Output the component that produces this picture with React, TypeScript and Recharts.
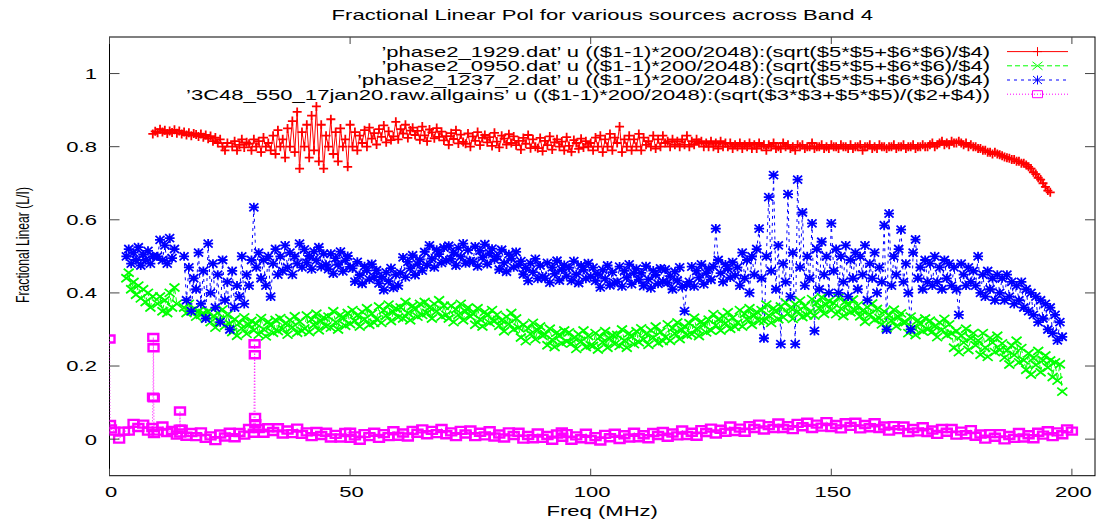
import React from 'react';
import { LineChart, Line, XAxis, YAxis, Customized } from 'recharts';

// ---------- data ----------
const STEP = 0.5; // MHz between plotted samples (channel grid)

const redStart = 9;
const redVals = [
  0.835, 0.842, 0.838, 0.848, 0.84, 0.845, 0.836, 0.843, 0.839, 0.846,
  0.837, 0.843, 0.835, 0.84, 0.832, 0.838, 0.83, 0.836, 0.833, 0.828,
  0.835, 0.826, 0.832, 0.822, 0.829, 0.815, 0.825, 0.81, 0.82, 0.8,
  0.79, 0.81, null, 0.8, 0.815, 0.79, 0.805, 0.82, 0.798, 0.812,
  0.808, 0.79, 0.82, 0.8, 0.815, 0.785, 0.825, 0.8, 0.81, 0.79,
  0.83, 0.78, 0.845, 0.8, 0.82, 0.77, 0.85, 0.8, 0.87, 0.785,
  0.895, 0.74, 0.84, 0.8, 0.86, 0.77, 0.885, 0.79, 0.91, 0.76,
  0.86, 0.74, 0.83, 0.8, 0.875, 0.78, 0.84, 0.76, 0.85, 0.8,
  0.82, 0.745, 0.86, 0.8, 0.84, 0.79, 0.83, 0.81, 0.845, 0.8,
  0.852, 0.822, 0.837, 0.806, 0.848, 0.827, 0.858, 0.812, 0.842, 0.818,
  0.828, 0.868, 0.82, 0.848, 0.836, 0.86, 0.824, 0.844, 0.852, 0.832,
  0.843, 0.819, 0.855, 0.831, 0.815, 0.847, 0.839, 0.823, 0.851, 0.827,
  0.841, 0.817, 0.829, 0.805, 0.837, 0.821, 0.845, 0.809, 0.833, 0.813,
  0.808, 0.836, 0.8, 0.828, 0.816, 0.84, 0.804, 0.824, 0.832, 0.812,
  0.826, 0.802, 0.838, 0.814, 0.798, 0.83, 0.822, 0.806, 0.834, 0.81,
  0.828, 0.804, 0.816, 0.792, 0.824, 0.808, 0.832, 0.796, 0.82, 0.8,
  0.796, 0.824, 0.788, 0.816, 0.804, 0.828, 0.792, 0.812, 0.82, 0.8,
  0.814, 0.79, 0.826, 0.802, 0.786, 0.818, 0.81, 0.794, 0.822, 0.798,
  0.815, 0.8, 0.81, 0.79, 0.825, 0.8, 0.83, 0.785, 0.82, 0.8,
  0.835, 0.79, 0.825, 0.81, 0.855, 0.785, 0.82, 0.8, 0.83, 0.79,
  0.82, 0.8, 0.835, 0.79, 0.825, 0.805, 0.815, 0.8, 0.83, 0.795,
  0.82, 0.8, 0.83, 0.81, 0.815, 0.8, 0.82, 0.805, 0.815, 0.8,
  0.82, 0.805, 0.83, 0.8, 0.815, 0.805, 0.82, 0.81, 0.815, 0.8,
  0.81, 0.8, 0.815, 0.8, 0.81, 0.795, 0.815, 0.8, 0.81, 0.8,
  0.81, 0.795, 0.805, 0.8, 0.81, 0.795, 0.805, 0.8, 0.81, 0.795,
  0.805, 0.795, 0.81, 0.8, 0.805, 0.79, 0.805, 0.8, 0.81, 0.795,
  0.8, 0.795, 0.81, 0.8, 0.805, 0.795, 0.8, 0.79, 0.805, 0.8,
  0.805, 0.795, 0.8, 0.8, 0.81, 0.795, 0.8, 0.8, 0.805, 0.795,
  0.8, 0.795, 0.805, 0.8, 0.8, 0.795, 0.805, 0.8, 0.8, 0.795,
  0.805, 0.795, 0.8, 0.8, 0.805, 0.79, 0.8, 0.8, 0.805, 0.795,
  0.8, 0.795, 0.805, 0.8, 0.8, 0.795, 0.8, 0.8, 0.805, 0.795,
  0.8, 0.8, 0.805, 0.795, 0.8, 0.8, 0.805, 0.795, 0.8, 0.8,
  0.805, 0.8, 0.8, 0.805, 0.81, 0.8, 0.805, 0.81, 0.815, 0.805,
  0.81, 0.805, 0.815, 0.81, 0.81, 0.815, 0.81, 0.805, 0.81, 0.8,
  0.805, 0.8, 0.8, 0.795, 0.795, 0.79, 0.79, 0.785, 0.785, 0.78,
  0.785, 0.78, 0.778, 0.775, 0.772, 0.77, 0.768, 0.765, 0.765, 0.76,
  0.76, 0.755, 0.755, 0.75, 0.745, 0.74, 0.73, 0.725, 0.715, 0.71,
  0.7, 0.69, 0.68, 0.675,
];

const greenStart = 3.5;
const greenVals = [
  0.44, 0.455, 0.41, 0.43, 0.395, 0.42, 0.385, 0.41, 0.375, 0.4, 0.36, 0.39,
  null,
  0.37, 0.39, 0.35, 0.38, 0.345, 0.4, 0.36, 0.415, 0.37,
  null, null,
  0.36, 0.345, 0.37, 0.35, 0.355, 0.335, 0.35, 0.34, 0.345, 0.33,
  0.35, 0.32, 0.335, 0.305, 0.345, 0.325, 0.355, 0.31, 0.34, 0.315,
  0.293, 0.328, 0.283, 0.318, 0.303, 0.333, 0.288, 0.313, 0.323, 0.298,
  0.316, 0.286, 0.331, 0.301, 0.281, 0.321, 0.311, 0.291, 0.326, 0.296,
  0.331, 0.301, 0.316, 0.286, 0.326, 0.306, 0.336, 0.291, 0.321, 0.296,
  0.303, 0.338, 0.293, 0.328, 0.313, 0.343, 0.298, 0.323, 0.333, 0.308,
  0.335, 0.305, 0.35, 0.32, 0.3, 0.34, 0.33, 0.31, 0.345, 0.315,
  0.353, 0.323, 0.338, 0.308, 0.348, 0.328, 0.358, 0.313, 0.343, 0.318,
  0.328, 0.363, 0.318, 0.353, 0.338, 0.368, 0.323, 0.348, 0.358, 0.333,
  0.36, 0.33, 0.375, 0.345, 0.325, 0.365, 0.355, 0.335, 0.37, 0.34,
  0.375, 0.345, 0.36, 0.33, 0.37, 0.35, 0.38, 0.335, 0.365, 0.34,
  0.33, 0.365, 0.32, 0.355, 0.34, 0.37, 0.325, 0.35, 0.36, 0.335,
  0.343, 0.313, 0.358, 0.328, 0.308, 0.348, 0.338, 0.318, 0.353, 0.323,
  0.34, 0.31, 0.325, 0.295, 0.335, 0.315, 0.345, 0.3, 0.33, 0.305,
  0.278, 0.313, 0.268, 0.303, 0.288, 0.318, 0.273, 0.298, 0.308, 0.283,
  0.287, 0.257, 0.302, 0.272, 0.252, 0.292, 0.282, 0.262, 0.297, 0.267,
  0.292, 0.262, 0.277, 0.247, 0.287, 0.267, 0.297, 0.252, 0.282, 0.257,
  0.255, 0.29, 0.245, 0.28, 0.265, 0.295, 0.25, 0.275, 0.285, 0.26,
  0.285, 0.255, 0.3, 0.27, 0.25, 0.29, 0.28, 0.26, 0.295, 0.265,
  0.303, 0.273, 0.288, 0.258, 0.298, 0.278, 0.308, 0.263, 0.293, 0.268,
  0.279, 0.314, 0.269, 0.304, 0.289, 0.319, 0.274, 0.299, 0.309, 0.284,
  0.317, 0.287, 0.332, 0.302, 0.282, 0.322, 0.312, 0.292, 0.327, 0.297,
  0.342, 0.312, 0.327, 0.297, 0.337, 0.317, 0.347, 0.302, 0.332, 0.307,
  0.318, 0.353, 0.308, 0.343, 0.328, 0.358, 0.313, 0.338, 0.348, 0.323,
  0.353, 0.323, 0.368, 0.338, 0.318, 0.358, 0.348, 0.328, 0.363, 0.333,
  0.374, 0.344, 0.359, 0.329, 0.369, 0.349, 0.379, 0.334, 0.364, 0.339,
  0.348, 0.383, 0.338, 0.373, 0.358, 0.388, 0.343, 0.368, 0.378, 0.353,
  0.372, 0.342, 0.387, 0.357, 0.337, 0.377, 0.367, 0.347, 0.382, 0.352,
  0.366, 0.336, 0.351, 0.321, 0.361, 0.341, 0.371, 0.326, 0.356, 0.331,
  0.314, 0.349, 0.304, 0.339, 0.324, 0.354, 0.309, 0.334, 0.344, 0.319,
  0.32, 0.29, 0.335, 0.305, 0.285, 0.325, 0.315, 0.295, 0.33, 0.3,
  0.324, 0.294, 0.309, 0.279, 0.319, 0.299, 0.329, 0.284, 0.314, 0.289,
  0.25, 0.296, 0.238, 0.283, 0.264, 0.302, 0.244, 0.276, 0.29, 0.257,
  0.27, 0.231, 0.29, 0.25, 0.225, 0.277, 0.264, 0.238, 0.283, 0.244,
  0.262, 0.223, 0.243, 0.204, 0.256, 0.23, 0.269, 0.21, 0.249, 0.216,
  0.19, 0.235, 0.177, 0.222, 0.203, 0.241, 0.183, 0.216, 0.229, 0.196,
  0.215, 0.17, 0.21, 0.16, 0.205, 0.13,
];

const blueStart = 3.5;
const blueVals = [
  0.5, 0.52, 0.48, 0.51, 0.49, 0.525, 0.475, 0.505, 0.49, 0.515, 0.48, 0.5,
  null,
  0.5, 0.545, 0.49, 0.53, 0.48, 0.55, 0.495, 0.52,
  null, null, null,
  0.5, 0.38, 0.47, 0.35, 0.44, 0.41, 0.51, 0.37, 0.46, 0.33,
  0.535, 0.4, 0.48, 0.36, 0.45, 0.32, 0.49, 0.38, 0.43, 0.3,
  0.46, 0.36, 0.42, 0.39, 0.5, 0.37, 0.45, 0.42, 0.49, 0.634,
  0.47, 0.51, 0.44, 0.49, 0.42, 0.5, 0.39, 0.48, 0.52, 0.45,
  0.5, 0.46, 0.53, 0.47, 0.51, 0.45, 0.5, 0.48, 0.535, 0.47,
  0.519, 0.483, 0.501, 0.465, 0.513, 0.489, 0.525, 0.471, 0.507, 0.477,
  0.465, 0.507, 0.453, 0.495, 0.477, 0.513, 0.459, 0.489, 0.501, 0.471,
  0.467, 0.431, 0.485, 0.449, 0.425, 0.473, 0.461, 0.437, 0.479, 0.443,
  0.462, 0.426, 0.444, 0.408, 0.456, 0.432, 0.468, 0.414, 0.45, 0.42,
  0.455, 0.497, 0.443, 0.485, 0.467, 0.503, 0.449, 0.479, 0.491, 0.461,
  0.512, 0.476, 0.53, 0.494, 0.47, 0.518, 0.506, 0.482, 0.524, 0.488,
  0.529, 0.493, 0.511, 0.475, 0.523, 0.499, 0.535, 0.481, 0.517, 0.487,
  0.485, 0.527, 0.473, 0.515, 0.497, 0.533, 0.479, 0.509, 0.521, 0.491,
  0.5, 0.464, 0.518, 0.482, 0.458, 0.506, 0.494, 0.47, 0.512, 0.476,
  0.487, 0.451, 0.469, 0.433, 0.481, 0.457, 0.493, 0.439, 0.475, 0.445,
  0.44, 0.482, 0.428, 0.47, 0.452, 0.488, 0.434, 0.464, 0.476, 0.446,
  0.469, 0.433, 0.487, 0.451, 0.427, 0.475, 0.463, 0.439, 0.481, 0.445,
  0.469, 0.433, 0.451, 0.415, 0.463, 0.439, 0.475, 0.421, 0.457, 0.427,
  0.43, 0.472, 0.418, 0.46, 0.442, 0.478, 0.424, 0.454, 0.466, 0.436,
  0.455, 0.419, 0.473, 0.437, 0.413, 0.461, 0.449, 0.425, 0.467, 0.431,
  0.464, 0.428, 0.446, 0.41, 0.458, 0.434, 0.47, 0.416, 0.35, 0.422,
  0.43, 0.472, 0.418, 0.46, 0.442, 0.478, 0.424, 0.454, 0.466, 0.436,
  0.472, 0.576, 0.49, 0.454, 0.43, 0.478, 0.466, 0.442, 0.484, 0.448,
  0.47, 0.42, 0.51, 0.44, 0.49, 0.4, 0.5, 0.45, 0.52, 0.576,
  0.44, 0.276, 0.5, 0.662, 0.46, 0.722, 0.41, 0.53, 0.26, 0.48,
  0.43, 0.67, 0.39, 0.51, 0.26, 0.71, 0.47, 0.62, 0.42, 0.5,
  0.44, 0.59, 0.296, 0.52, 0.41, 0.54, 0.45, 0.5, 0.4, 0.59,
  0.46, 0.52, 0.4, 0.5, 0.43, 0.53, 0.39, 0.49, 0.44, 0.51,
  0.41, 0.5, 0.45, 0.53, 0.38, 0.48, 0.44, 0.51, 0.4, 0.47,
  0.43, 0.585, 0.3, 0.617, 0.42, 0.5, 0.45, 0.52, 0.573, 0.43,
  0.48, 0.4, 0.3, 0.51, 0.546, 0.44, 0.47, 0.41, 0.49, 0.43,
  0.48, 0.42, 0.5, 0.43, 0.47, 0.41, 0.49, 0.44, 0.48, 0.42,
  0.47, 0.41, 0.34, 0.48, 0.45, 0.42, 0.47, 0.43, 0.46, 0.42,
  0.5, 0.4, 0.45, 0.39, 0.46, 0.41, 0.44, 0.38, 0.45, 0.4,
  0.44, 0.38, 0.45, 0.39, 0.43, 0.37, 0.42, 0.38, 0.43, 0.36,
  0.41, 0.35, 0.4, 0.34, 0.39, 0.32, 0.38, 0.33, 0.37, 0.3,
  0.36, 0.29, 0.34, 0.27, 0.32, 0.28,
];

const magentaFreq = [
  0, 0.1, 0.3, 1, 2, 3, 4, 5, 6, 7, 8, 8.9, 9.05, 9.1, 9.15, 9.2, 9.25,
  10, 11, 12, 13, 14, 14.6, 14.65, 14.7, 15, 16, 17, 18, 19, 20, 21, 22, 23, 24, 25,
  26, 27, 28, 29, 30, 30.15, 30.2, 30.25, 30.3, 31, 32, 33, 34, 35, 36, 37, 38, 39, 40,
  41, 42, 43, 44, 45, 46, 47, 48, 49, 50, 50.1, 51, 52, 53, 54, 55, 56, 57, 58, 59, 60,
  61, 62, 63, 64, 65, 66, 67, 68, 69, 70, 71, 72, 73, 74, 75, 76, 77, 78, 79, 80,
  81, 82, 83, 84, 85, 86, 87, 88, 89, 90, 91, 92, 93, 94, 94.1, 95, 96, 97, 98, 99, 100,
  101, 102, 103, 104, 105, 106, 107, 108, 109, 110, 111, 112, 113, 114, 115, 116, 117, 118, 119, 120,
  121, 122, 123, 124, 125, 126, 127, 128, 129, 130, 131, 132, 133, 134, 135, 136, 137, 138, 139, 140,
  141, 142, 143, 144, 145, 146, 147, 148, 149, 150, 151, 152, 153, 154, 155, 156, 157, 158, 159, 160,
  161, 162, 163, 164, 165, 166, 167, 168, 169, 170, 171, 172, 173, 174, 175, 176, 177, 178, 179, 180,
  181, 182, 183, 184, 185, 186, 187, 188, 189, 190, 191, 192, 193, 194, 195, 196, 197, 198, 199, 200,
];
const magentaVals = [
  0.274, 0.04, 0.028, 0.022, 0.0, 0.022, 0.022, 0.043, 0.032, 0.041, 0.022, 0.032, 0.115, 0.278, 0.25, 0.113, 0.015,
  0.022, 0.036, 0.018, 0.024, 0.011, 0.027, 0.077, 0.017, 0.027, 0.008, 0.018, 0.007, 0.02, 0.002, 0.009, -0.004, 0.014, 0.006, 0.019,
  0.004, 0.018, 0.011, 0.029, 0.016, 0.261, 0.231, 0.059, 0.042, 0.029, 0.016, 0.031, 0.021, 0.031, 0.014, 0.025, 0.015, 0.03, 0.013,
  0.02, 0.007, 0.021, 0.01, 0.019, 0.003, 0.013, 0.003, 0.018, 0.019, 0.002, 0.009, -0.003, 0.015, 0.007, 0.019, 0.002, 0.015, 0.007, 0.023, 0.008,
  0.017, 0.006, 0.024, 0.016, 0.028, 0.012, 0.024, 0.015, 0.029, 0.012, 0.02, 0.007, 0.024, 0.014, 0.025, 0.007, 0.019, 0.009, 0.023, 0.006,
  0.014, 0.003, 0.02, 0.01, 0.019, 0.0, 0.01, 0.001, 0.017, 0.002, 0.01, -0.003, 0.014, 0.02, 0.005, 0.015, -0.003, 0.009, 0.001, 0.016, -0.001,
  0.007, -0.005, 0.013, 0.004, 0.016, -0.001, 0.012, 0.003, 0.019, 0.004, 0.012, 0.001, 0.018, 0.01, 0.021, 0.005, 0.017, 0.009, 0.025, 0.01,
  0.019, 0.008, 0.026, 0.018, 0.03, 0.014, 0.027, 0.019, 0.036, 0.021, 0.03, 0.019, 0.037, 0.029, 0.041, 0.025, 0.037, 0.029, 0.044, 0.029,
  0.037, 0.026, 0.043, 0.034, 0.046, 0.029, 0.041, 0.033, 0.048, 0.032, 0.04, 0.028, 0.045, 0.035, 0.046, 0.028, 0.04, 0.031, 0.045, 0.029,
  0.036, 0.022, 0.037, 0.026, 0.036, 0.018, 0.029, 0.02, 0.034, 0.018, 0.025, 0.013, 0.029, 0.019, 0.029, 0.011, 0.022, 0.012, 0.026, 0.008,
  0.014, 0.0, 0.015, 0.005, 0.015, -0.002, 0.01, 0.002, 0.018, 0.003, 0.012, 0.001, 0.019, 0.011, 0.023, 0.007, 0.02, 0.012, 0.028, 0.022,
];

const xTicks = [0, 50, 100, 150, 200];
const yTicks = [0, 0.2, 0.4, 0.6, 0.8, 1];
const titleText = 'Fractional Linear Pol for various sources across Band 4';
const xLabel = 'Freq (MHz)';
const yLabel = 'Fractional Linear (L/I)';
const legendLabels = [
  '\u2019phase2_1929.dat\u2019 u (($1-1)*200/2048):(sqrt($5*$5+$6*$6)/$4)',
  '\u2019phase2_0950.dat\u2019 u (($1-1)*200/2048):(sqrt($5*$5+$6*$6)/$4)',
  '\u2019phase2_1237_2.dat\u2019 u (($1-1)*200/2048):(sqrt($5*$5+$6*$6)/$4)',
  '\u20193C48_550_17jan20.raw.allgains\u2019 u (($1-1)*200/2048):(sqrt($3*$3+$5*$5)/($2+$4))',
];

// ---------- build series tables ----------
const onGrid = (start: number, vals: (number | null)[]) =>
  vals.map((v, i) => ({ f: start + i * STEP, v }));
const redData = onGrid(redStart, redVals);
const greenData = onGrid(greenStart, greenVals);
const blueData = onGrid(blueStart, blueVals);
const magentaData = magentaFreq.map((f, i) => ({ f, v: magentaVals[i] }));

// ---------- layout / style ----------
const W = 1099;
const H = 527;
const L = 109.5;
const R = 1095;
const T = 37;
const B = 475.7;
const X_MAX = 204.8;
const FONT = "'Liberation Sans', Arial, Helvetica, sans-serif";
const SX = 1.47;
const FS = 15;

const RED = '#ff0000';
const GREEN = '#00ff00';
const BLUE = '#0000ff';
const MAGENTA = '#ff00ff';
const TICK = '#444';

const SText = ({ x, y, anchor, children }: any) => (
  <text
    transform={`translate(${x},${y}) scale(${SX},1)`}
    textAnchor={anchor}
    fontSize={FS}
    fontFamily={FONT}
    fill="#000"
  >
    {children}
  </text>
);

const markerPath = (kind: string, cx: number, cy: number) => {
  if (kind === 'plus') return `M${cx - 4.5} ${cy}H${cx + 4.5}M${cx} ${cy - 4.5}V${cy + 4.5}`;
  if (kind === 'cross') return `M${cx - 5} ${cy - 4}L${cx + 5} ${cy + 4}M${cx - 5} ${cy + 4}L${cx + 5} ${cy - 4}`;
  if (kind === 'star')
    return `M${cx - 5} ${cy}H${cx + 5}M${cx} ${cy - 4.5}V${cy + 4.5}M${cx - 4.5} ${cy - 4}L${cx + 4.5} ${cy + 4}M${cx - 4.5} ${cy + 4}L${cx + 4.5} ${cy - 4}`;
  return `M${cx - 5} ${cy - 3.5}h10v7h-10z`;
};

const Marker = ({ kind, cx, cy, color, w = 1 }: any) => (
  <path d={markerPath(kind, cx, cy)} stroke={color} strokeWidth={w} fill="none" />
);

const makeDot = (kind: string, color: string, w: number) => (p: any) => {
  const k = `m-${kind}-${p.index}`;
  if (p.cx == null || p.cy == null || Number.isNaN(p.cy)) return <g key={k} />;
  return <Marker key={k} kind={kind} cx={p.cx} cy={p.cy} color={color} w={w} />;
};

const XTick = (p: any) => {
  const x = p.x;
  return (
    <g>
      <line x1={x} x2={x} y1={B} y2={B - 7} stroke={TICK} />
      <line x1={x} x2={x} y1={T} y2={T + 7} stroke={TICK} />
      <SText x={x + 1.5} y={496.5} anchor="middle">{String(p.payload.value)}</SText>
    </g>
  );
};

const YTick = (p: any) => {
  const y = p.y;
  return (
    <g>
      <line x1={L} x2={L + 10} y1={y} y2={y} stroke={TICK} />
      <line x1={R - 10} x2={R} y1={y} y2={y} stroke={TICK} />
      <SText x={97} y={y + 5.4} anchor="end">{String(p.payload.value)}</SText>
    </g>
  );
};

const legendStyle = [
  { color: RED, dash: undefined, kind: 'plus' },
  { color: GREEN, dash: '5 3', kind: 'cross' },
  { color: BLUE, dash: '3 4', kind: 'star' },
  { color: MAGENTA, dash: '1 2', kind: 'square' },
];

const Overlay = () => (
  <g>
    <rect x={L} y={T} width={R - L} height={B - T} fill="none" stroke="#000" strokeWidth={1} />
    <SText x={(L + R) / 2} y={20.4} anchor="middle">{titleText}</SText>
    <SText x={(L + R) / 2} y={515.5} anchor="middle">{xLabel}</SText>
    <text
      transform={`translate(29,245) rotate(-90) scale(1,1.45)`}
      textAnchor="middle"
      fontSize={12.2}
      fontFamily={FONT}
      fill="#000"
    >
      {yLabel}
    </text>
    {legendLabels.map((t, i) => {
      const y = 51.6 + i * 14.2;
      const s = legendStyle[i];
      return (
        <g key={i}>
          <SText x={990} y={y + 5.4} anchor="end">{t}</SText>
          <line x1={1007} x2={1068} y1={y} y2={y} stroke={s.color} strokeDasharray={s.dash} />
          <Marker kind={s.kind} cx={1037.5} cy={y} color={s.color} />
        </g>
      );
    })}
  </g>
);

export default function App() {
  return (
    <div style={{ position: 'absolute', left: 0, top: 0, width: W, height: H, background: '#fff' }}>
      <LineChart width={W} height={H} margin={{ top: T, right: W - R, bottom: 0, left: 0 }}>
        <XAxis
          type="number"
          dataKey="f"
          domain={[0, X_MAX]}
          ticks={xTicks}
          interval={0}
          tick={(p: any) => <XTick {...p} />}
          tickLine={false}
          axisLine={false}
          height={H - B}
          allowDataOverflow
        />
        <YAxis
          type="number"
          domain={[-0.1, 1.1]}
          ticks={yTicks}
          interval={0}
          tick={(p: any) => <YTick {...p} />}
          tickLine={false}
          axisLine={false}
          width={L}
          allowDataOverflow
        />
        <Line
          data={redData}
          dataKey="v"
          stroke={RED}
          strokeWidth={1}
          dot={makeDot('plus', RED, 1.8)}
          activeDot={false}
          connectNulls={false}
          isAnimationActive={false}
        />
        <Line
          data={greenData}
          dataKey="v"
          stroke={GREEN}
          strokeWidth={1}
          strokeDasharray="5 3"
          dot={makeDot('cross', GREEN, 1.8)}
          activeDot={false}
          connectNulls={false}
          isAnimationActive={false}
        />
        <Line
          data={blueData}
          dataKey="v"
          stroke={BLUE}
          strokeWidth={1}
          strokeDasharray="3 4"
          dot={makeDot('star', BLUE, 1.8)}
          activeDot={false}
          connectNulls={false}
          isAnimationActive={false}
        />
        <Line
          data={magentaData}
          dataKey="v"
          stroke={MAGENTA}
          strokeWidth={1}
          strokeDasharray="1 2"
          dot={makeDot('square', MAGENTA, 2.4)}
          activeDot={false}
          connectNulls={false}
          isAnimationActive={false}
        />
        <Customized component={Overlay} />
      </LineChart>
    </div>
  );
}
